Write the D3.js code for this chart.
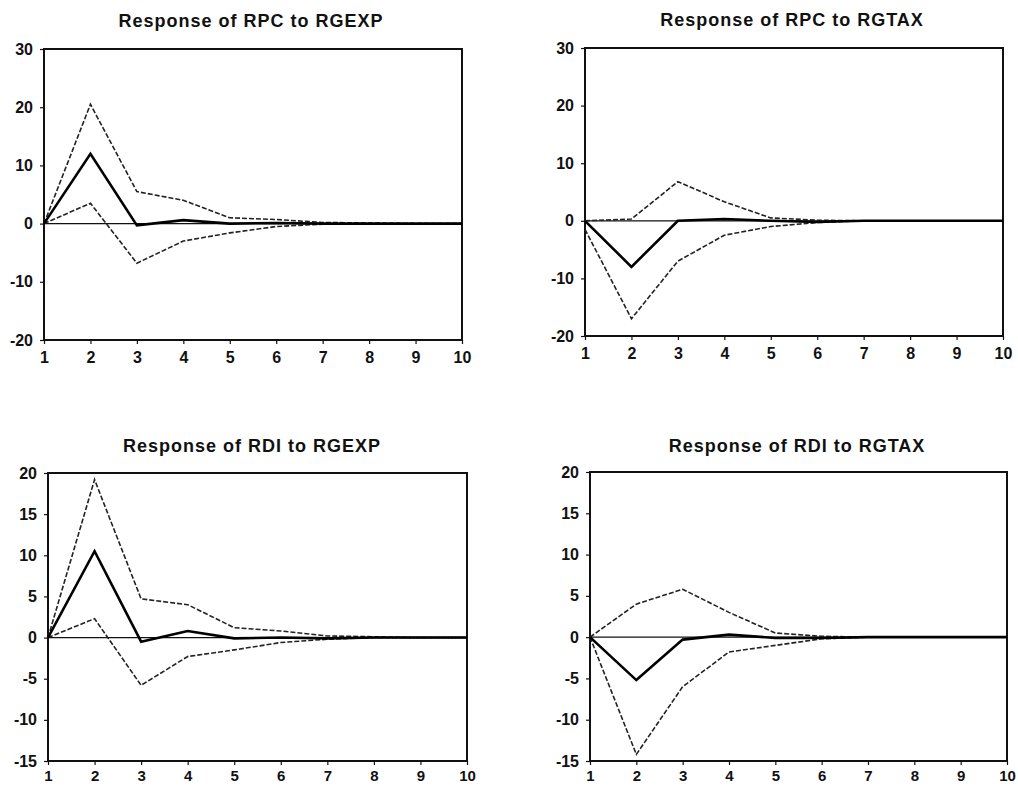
<!DOCTYPE html>
<html>
<head>
<meta charset="utf-8">
<script src="https://cdn.jsdelivr.net/npm/d3@7"></script>
<style>
  html, body { margin: 0; padding: 0; background: #ffffff; }
  svg { display: block; }
  text { font-family: "Liberation Sans", Arial, sans-serif; font-weight: bold; fill: #111; }
</style>
</head>
<body>
<svg id="chart" width="1018" height="787"></svg>
<script>
// ---- Data ----
const periods = [1, 2, 3, 4, 5, 6, 7, 8, 9, 10];
const titles = ["Response of RPC to RGEXP", "Response of RPC to RGTAX",
                "Response of RDI to RGEXP", "Response of RDI to RGTAX"];

const ticksTop = [-20, -10, 0, 10, 20, 30];
const ticksBottom = [-15, -10, -5, 0, 5, 10, 15, 20];

// Response of RPC to RGEXP
const rpcGexpMid   = [0, 12.0, -0.3, 0.6, 0.0, 0.1, 0.0, 0.0, 0.0, 0.0];
const rpcGexpUpper = [0, 20.5, 5.5, 4.0, 1.0, 0.7, 0.2, 0.1, 0.0, 0.0];
const rpcGexpLower = [0, 3.5, -6.8, -3.0, -1.6, -0.5, -0.1, 0.0, 0.0, 0.0];

// Response of RPC to RGTAX
const rpcGtaxMid   = [0, -8.0, 0.0, 0.3, 0.0, -0.2, 0.0, 0.0, 0.0, 0.0];
const rpcGtaxUpper = [0, 0.3, 6.8, 3.3, 0.5, 0.1, 0.0, 0.0, 0.0, 0.0];
const rpcGtaxLower = [-1.5, -17.0, -7.0, -2.5, -1.0, -0.3, 0.0, 0.0, 0.0, 0.0];

// Response of RDI to RGEXP
const rdiGexpMid   = [0, 10.5, -0.5, 0.8, -0.1, 0.0, -0.1, 0.0, 0.0, 0.0];
const rdiGexpUpper = [0, 19.2, 4.7, 4.0, 1.2, 0.8, 0.2, 0.1, 0.0, 0.0];
const rdiGexpLower = [0, 2.3, -5.8, -2.3, -1.5, -0.6, -0.2, 0.0, 0.0, 0.0];

// Response of RDI to RGTAX
const rdiGtaxMid   = [0, -5.2, -0.3, 0.3, -0.1, -0.1, 0.0, 0.0, 0.0, 0.0];
const rdiGtaxUpper = [0, 4.0, 5.8, 3.0, 0.5, 0.1, 0.0, 0.0, 0.0, 0.0];
const rdiGtaxLower = [0, -14.2, -6.0, -1.8, -1.0, -0.2, 0.0, 0.0, 0.0, 0.0];

// ---- Layout ----
const panels = [
  { title: titles[0], box: [44, 462, 49, 340], dom: [-20, 30], ticks: ticksTop, pad: 8, fs: 16,
    mid: rpcGexpMid, up: rpcGexpUpper, lo: rpcGexpLower, titleX: 251, titleY: 27 },
  { title: titles[1], box: [585, 1003, 48, 336], dom: [-20, 30], ticks: ticksTop, pad: 8, fs: 16,
    mid: rpcGtaxMid, up: rpcGtaxUpper, lo: rpcGtaxLower, titleX: 792, titleY: 26 },
  { title: titles[2], box: [48, 467, 473, 761], dom: [-15, 20], ticks: ticksBottom, pad: 5, fs: 15,
    mid: rdiGexpMid, up: rdiGexpUpper, lo: rdiGexpLower, titleX: 252, titleY: 452 },
  { title: titles[3], box: [590, 1007, 472, 761], dom: [-15, 20], ticks: ticksBottom, pad: 5, fs: 15,
    mid: rdiGtaxMid, up: rdiGtaxUpper, lo: rdiGtaxLower, titleX: 797, titleY: 452 }
];

const svg = d3.select("#chart");
const fmt = d => String(d);

panels.forEach(p => {
  const [l, r, t, b] = p.box;
  const x = d3.scaleLinear().domain([1, 10]).range([l, r]);
  const y = d3.scaleLinear().domain(p.dom).range([b, t]);
  const g = svg.append("g");

  // title
  g.append("text")
    .attr("x", p.titleX).attr("y", p.titleY)
    .attr("text-anchor", "middle")
    .style("font-size", "18px")
    .style("letter-spacing", "1px")
    .text(p.title);

  // y axis
  const ya = g.append("g").attr("transform", `translate(${l},0)`)
    .call(d3.axisLeft(y).tickValues(p.ticks).tickSize(4).tickPadding(7).tickFormat(fmt));
  ya.select(".domain").remove();
  ya.selectAll("line").attr("stroke", "#111").attr("stroke-width", 1.2);
  ya.selectAll("text").style("font-size", "16px").attr("fill", "#111");

  // x axis
  const xa = g.append("g").attr("transform", `translate(0,${b})`)
    .call(d3.axisBottom(x).tickValues(periods).tickSize(4).tickPadding(p.pad).tickFormat(fmt));
  xa.select(".domain").remove();
  xa.selectAll("line").attr("stroke", "#111").attr("stroke-width", 1.2);
  xa.selectAll("text").style("font-size", p.fs + "px").attr("fill", "#111");

  // frame
  g.append("rect")
    .attr("x", l).attr("y", t).attr("width", r - l).attr("height", b - t)
    .attr("fill", "none").attr("stroke", "#111").attr("stroke-width", 2);

  // zero line
  g.append("line")
    .attr("x1", x(1)).attr("x2", x(10)).attr("y1", y(0)).attr("y2", y(0))
    .attr("stroke", "#111").attr("stroke-width", 1.2);

  const line = d3.line().x((d, i) => x(periods[i])).y(d => y(d));

  g.append("path").datum(p.up).attr("d", line)
    .attr("fill", "none").attr("stroke", "#222").attr("stroke-width", 1.6)
    .attr("stroke-dasharray", "5,2");
  g.append("path").datum(p.lo).attr("d", line)
    .attr("fill", "none").attr("stroke", "#222").attr("stroke-width", 1.6)
    .attr("stroke-dasharray", "5,2");
  g.append("path").datum(p.mid).attr("d", line)
    .attr("fill", "none").attr("stroke", "#000").attr("stroke-width", 2.6)
    .attr("stroke-linejoin", "miter");
});
</script>
</body>
</html>
